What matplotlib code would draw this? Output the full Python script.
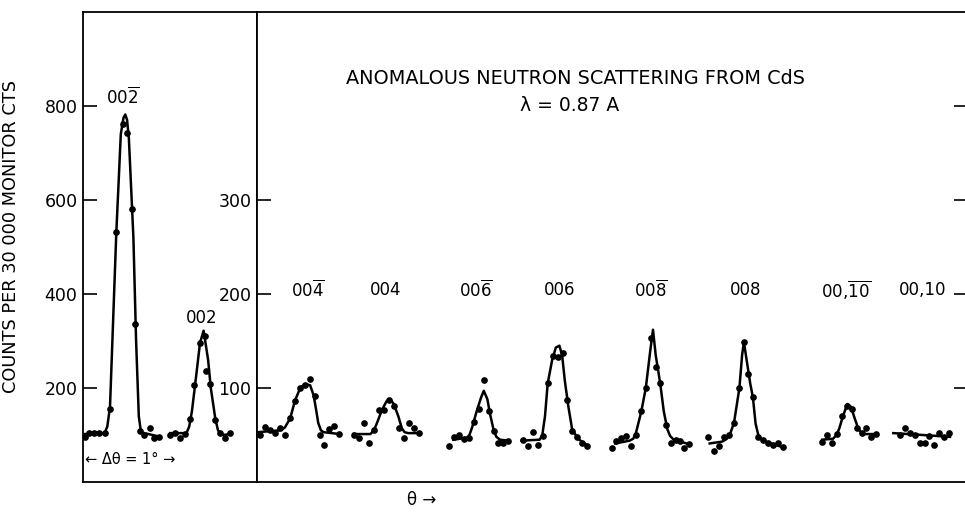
import numpy as np
import matplotlib.pyplot as plt

plt.rcParams['font.family'] = ['DejaVu Sans']
plt.rcParams['mathtext.fontset'] = 'dejavusans'

# theta in degrees from the left edge of each panel, counts per 30 000 monitor cts
# left panel (scale 0-1000)
th_002b = [0.02, 0.07, 0.12, 0.18, 0.24, 0.30, 0.37, 0.44, 0.49, 0.54, 0.58, 0.63, 0.68, 0.74, 0.79, 0.84]
n_002b = [96, 104, 104, 104, 104, 155, 532, 762, 742, 581, 336, 108, 100, 115, 94, 96]
fit_th_002b = [0.02, 0.24, 0.27, 0.30, 0.37, 0.42, 0.45, 0.47, 0.49, 0.51, 0.56, 0.59, 0.62, 0.64, 0.66, 0.86]
fit_n_002b = [102, 104, 118, 160, 530, 740, 775, 782, 770, 730, 520, 300, 140, 112, 105, 96]

th_002 = [0.97, 1.02, 1.08, 1.13, 1.19, 1.23, 1.30, 1.36, 1.37, 1.41, 1.47, 1.52, 1.58, 1.63]
n_002 = [100, 104, 94, 102, 134, 206, 296, 311, 236, 209, 132, 104, 94, 104]
fit_th_002 = [0.97, 1.15, 1.18, 1.21, 1.26, 1.30, 1.34, 1.39, 1.42, 1.47, 1.50, 1.53, 1.56, 1.63]
fit_n_002 = [104, 104, 118, 150, 230, 296, 322, 260, 200, 135, 110, 102, 100, 102]

# right panel (scale 0-500)
th_004b = [0.03, 0.09, 0.14, 0.20, 0.26, 0.31, 0.37, 0.42, 0.48, 0.53, 0.59, 0.64, 0.70, 0.74, 0.80, 0.86, 0.91]
n_004b = [50, 59, 55, 52, 57, 50, 68, 86, 100, 103, 110, 91, 50, 39, 56, 60, 51]
fit_th_004b = [0.01, 0.26, 0.31, 0.37, 0.42, 0.48, 0.53, 0.59, 0.63, 0.66, 0.68, 0.71, 0.74, 0.92]
fit_n_004b = [53, 55, 58, 68, 86, 100, 104, 103, 92, 75, 63, 55, 53, 51]

th_004 = [1.08, 1.13, 1.19, 1.24, 1.30, 1.36, 1.41, 1.47, 1.52, 1.58, 1.63, 1.69, 1.74, 1.80]
n_004 = [50, 47, 63, 42, 55, 77, 77, 87, 81, 57, 47, 63, 57, 52]
fit_th_004 = [1.07, 1.26, 1.30, 1.33, 1.39, 1.44, 1.48, 1.52, 1.57, 1.61, 1.64, 1.68, 1.81]
fit_n_004 = [51, 51, 55, 62, 77, 86, 88, 83, 70, 57, 53, 52, 52]

th_006b = [2.13, 2.19, 2.24, 2.30, 2.36, 2.41, 2.47, 2.52, 2.58, 2.63, 2.68, 2.73, 2.79]
n_006b = [38, 48, 50, 46, 47, 64, 78, 108, 76, 54, 41, 41, 44]
fit_th_006b = [2.18, 2.33, 2.36, 2.39, 2.44, 2.49, 2.52, 2.56, 2.59, 2.63, 2.66, 2.70, 2.79]
fit_n_006b = [45, 47, 50, 58, 75, 90, 97, 88, 72, 55, 48, 45, 44]

th_006 = [2.96, 3.01, 3.07, 3.12, 3.18, 3.23, 3.29, 3.34, 3.40, 3.44, 3.50, 3.56, 3.61, 3.67]
n_006 = [45, 38, 53, 39, 49, 105, 134, 133, 137, 87, 54, 48, 41, 38]
fit_th_006 = [2.94, 3.14, 3.17, 3.20, 3.23, 3.28, 3.32, 3.36, 3.39, 3.42, 3.46, 3.50, 3.54, 3.58, 3.67]
fit_n_006 = [44, 45, 50, 70, 105, 130, 143, 145, 135, 108, 80, 57, 50, 45, 39]

th_008b = [3.94, 3.99, 4.04, 4.10, 4.16, 4.21, 4.27, 4.32, 4.38, 4.43, 4.48, 4.54, 4.60, 4.66, 4.70, 4.74, 4.80]
n_008b = [36, 44, 47, 49, 38, 50, 76, 100, 153, 122, 105, 61, 41, 45, 44, 36, 40]
fit_th_008b = [3.98, 4.14, 4.18, 4.21, 4.27, 4.32, 4.37, 4.40, 4.43, 4.48, 4.52, 4.56, 4.59, 4.63, 4.68, 4.80]
fit_n_008b = [41, 44, 46, 52, 75, 100, 140, 162, 135, 105, 75, 56, 49, 45, 44, 40]

th_008 = [5.01, 5.08, 5.13, 5.19, 5.24, 5.30, 5.36, 5.41, 5.46, 5.51, 5.57, 5.62, 5.68, 5.73, 5.79, 5.84]
n_008 = [48, 33, 38, 48, 50, 63, 100, 149, 115, 90, 48, 45, 41, 39, 41, 37]
fit_th_008 = [5.03, 5.17, 5.22, 5.26, 5.30, 5.36, 5.39, 5.41, 5.44, 5.48, 5.51, 5.54, 5.57, 5.60, 5.65, 5.84]
fit_n_008 = [41, 43, 46, 52, 63, 100, 135, 149, 130, 105, 90, 62, 50, 46, 43, 37]

th_0010b = [6.28, 6.33, 6.39, 6.44, 6.50, 6.56, 6.61, 6.67, 6.72, 6.77, 6.82, 6.88]
n_0010b = [43, 50, 41, 51, 70, 81, 78, 57, 52, 57, 48, 51]
fit_th_0010b = [6.28, 6.40, 6.44, 6.47, 6.51, 6.56, 6.60, 6.64, 6.68, 6.71, 6.75, 6.88]
fit_n_0010b = [45, 46, 50, 57, 70, 83, 80, 68, 57, 53, 51, 51]

th_0010 = [7.14, 7.20, 7.26, 7.31, 7.37, 7.42, 7.47, 7.52, 7.58, 7.63, 7.69]
n_0010 = [50, 57, 52, 50, 41, 41, 49, 39, 52, 48, 52]
fit_th_0010 = [7.07, 7.40, 7.70]
fit_n_0010 = [52, 50, 48]

# peak labels: (text, theta, height)
left_labels = [(r'$00\overline{2}$', 0.44, 819), ('002', 1.32, 349)]
right_labels = [(r'$00\overline{4}$', 0.56, 204), ('004', 1.43, 204),
                (r'$00\overline{6}$', 2.43, 204), ('006', 3.36, 204),
                (r'$00\overline{8}$', 4.38, 204), ('008', 5.43, 204),
                (r'$00,\!\overline{10}$', 6.54, 204), ('00,10', 7.40, 204)]

left_scans = [(th_002b, n_002b, fit_th_002b, fit_n_002b),
              (th_002, n_002, fit_th_002, fit_n_002)]
right_scans = [(th_004b, n_004b, fit_th_004b, fit_n_004b),
               (th_004, n_004, fit_th_004, fit_n_004),
               (th_006b, n_006b, fit_th_006b, fit_n_006b),
               (th_006, n_006, fit_th_006, fit_n_006),
               (th_008b, n_008b, fit_th_008b, fit_n_008b),
               (th_008, n_008, fit_th_008, fit_n_008),
               (th_0010b, n_0010b, fit_th_0010b, fit_n_0010b),
               (th_0010, n_0010, fit_th_0010, fit_n_0010)]

W, H = 965, 512
fig = plt.figure(figsize=(W / 100, H / 100), dpi=100)
ax1 = fig.add_axes([83 / W, 1 - 482 / H, 174 / W, 470 / H])
ax2 = fig.add_axes([257 / W, 1 - 482 / H, 711 / W, 470 / H])

fs = 12
for ax in (ax1, ax2):
    for s in ax.spines.values():
        s.set_linewidth(1.3)
    ax.set_xticks([])
    ax.tick_params(axis='y', direction='in', length=10, width=1.2, labelsize=12.5, pad=4)

ax1.set_xlim(0, 174 / 90)
ax1.set_ylim(0, 1000)
ax1.set_yticks([200, 400, 600, 800])
for th, n, fth, fn in left_scans:
    ax1.plot(fth, fn, color='black', lw=1.8, solid_joinstyle='round')
    ax1.plot(th, n, 'o', color='black', ms=3.8)
for txt, x, y in left_labels:
    ax1.text(x, y, txt, ha='center', va='center', fontsize=fs)
ax1.text(0.52, 47, '\u2190 \u0394\u03b8 = 1\u00b0 \u2192', ha='center', va='center', fontsize=10.5)
ax1.set_ylabel('COUNTS PER 30 000 MONITOR CTS', fontsize=12.8)
ax1.yaxis.set_label_coords(-0.36, 0.523)

ax2.set_xlim(0, 711 / 90)
ax2.set_ylim(0, 500)
ax2.set_yticks([100, 200, 300])
for th, n, fth, fn in right_scans:
    ax2.plot(fth, fn, color='black', lw=1.8, solid_joinstyle='round')
    ax2.plot(th, n, 'o', color='black', ms=3.8)
for txt, x, y in right_labels:
    ax2.text(x, y, txt, ha='center', va='center', fontsize=fs)
ax2.text(3.54, 429, 'ANOMALOUS NEUTRON SCATTERING FROM CdS', ha='center', va='center', fontsize=13.9)
ax2.text(3.47, 401, '\u03bb = 0.87 A', ha='center', va='center', fontsize=13.5)

ax3 = ax2.twinx()
ax3.set_ylim(0, 500)
ax3.set_yticks([100, 200, 300, 400])
ax3.set_yticklabels([])
ax3.tick_params(axis='y', direction='in', length=10, width=1.2)
for s in ax3.spines.values():
    s.set_visible(False)

fig.text(422 / W, 1 - 500 / H, '\u03b8 \u2192', ha='center', va='center', fontsize=12)

fig.savefig('out.png', dpi=100)
